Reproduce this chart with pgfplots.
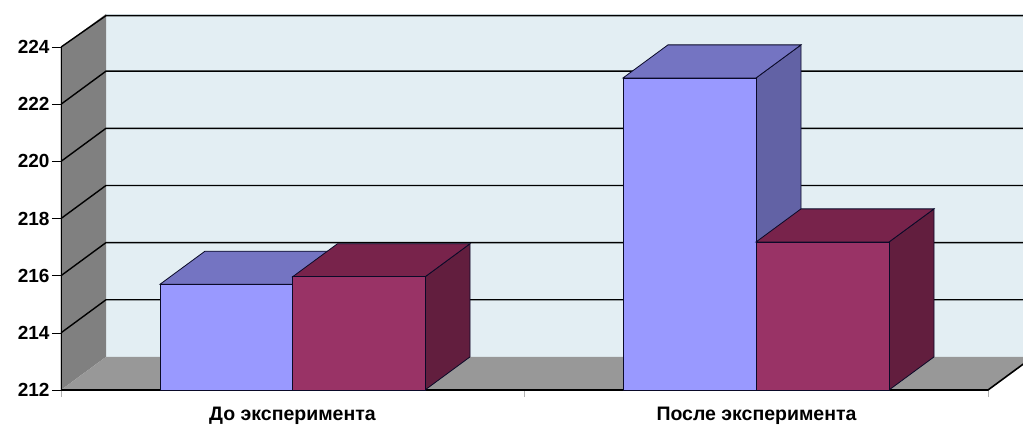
\documentclass[border=0pt]{standalone}
\usepackage{pgfplots}
\pgfplotsset{compat=1.18}
\usepackage{fontspec}
\setmainfont{Liberation Sans}
\definecolor{wallback}{RGB}{227,238,243}
\definecolor{wallleft}{RGB}{128,128,128}
\definecolor{floorc}{RGB}{152,152,152}
\definecolor{bfront}{RGB}{153,153,255}
\definecolor{btop}{RGB}{116,116,194}
\definecolor{bside}{RGB}{98,98,165}
\definecolor{rfront}{RGB}{153,51,102}
\definecolor{rtop}{RGB}{120,35,75}
\definecolor{rside}{RGB}{98,30,62}
\definecolor{edge}{RGB}{10,10,40}
\begin{document}
\begin{tikzpicture}
\begin{axis}[
  scale only axis,
  width=962pt, height=376pt,
  xmin=61, xmax=1023, ymin=212, ymax=225.158,
  axis x line=bottom, axis y line=left,
  axis line style={draw=none},
  no markers,
  ytick={212,214,...,224},
  tick align=outside,
  ytick pos=left,
  major tick length=9pt,
  ytick style={black, line width=0.6pt},
  yticklabel style={font=\fontsize{19}{22}\selectfont\bfseries, xshift=1pt},
  /pgf/number format/assume math mode=true,
  xtick={292.5,756.5},
  xticklabels={До эксперимента, После эксперимента},
  xtick style={draw=none},
  xticklabel style={font=\fontsize{19.5}{22}\selectfont\bfseries, yshift=-5pt},
  extra x ticks={61,524,988},
  extra x tick labels={},
  extra x tick style={xtick style={draw=gray!60, line width=0.6pt}, major tick length=7pt},
  unbounded coords=jump,
]
% walls and floor
\addplot[fill=wallback, draw=none] coordinates {(106,213.158) (1023,213.158) (1023,225.158) (106,225.158)} -- cycle;
\addplot[fill=wallleft, draw=none] coordinates {(61,212) (106,213.158) (106,225.158) (61,224)} -- cycle;
\addplot[fill=floorc, draw=none] coordinates {(61,212) (988,212) (1033,213.158) (106,213.158)} -- cycle;
% gridlines
\addplot[black, line width=1.4pt] coordinates {
 (61,214) (106,215.158) (1023,215.158) (nan,nan)
 (61,216) (106,217.158) (1023,217.158) (nan,nan)
 (61,218) (106,219.158) (1023,219.158) (nan,nan)
 (61,220) (106,221.158) (1023,221.158) (nan,nan)
 (61,222) (106,223.158) (1023,223.158) (nan,nan)
 (61,224) (106,225.1) (1023,225.1)
};
% front floor edge and value axis
\addplot[black, line width=1.6pt] coordinates {(61,224) (61,212) (988,212) (1033,213.158)};
% group 1, series 1
\addplot[fill=bside, draw=edge, line width=0.8pt] coordinates {(292.5,212) (337.5,213.158) (337.5,216.858) (292.5,215.7)} -- cycle;
\addplot[fill=btop, draw=edge, line width=0.8pt] coordinates {(160,215.7) (205,216.858) (337.5,216.858) (292.5,215.7)} -- cycle;
\addplot[fill=bfront, draw=edge, line width=0.8pt] coordinates {(160,212) (292.5,212) (292.5,215.7) (160,215.7)} -- cycle;
% group 1, series 2
\addplot[fill=rside, draw=edge, line width=0.8pt] coordinates {(425,212) (470,213.158) (470,217.118) (425,215.96)} -- cycle;
\addplot[fill=rtop, draw=edge, line width=0.8pt] coordinates {(292.5,215.96) (337.5,217.118) (470,217.118) (425,215.96)} -- cycle;
\addplot[fill=rfront, draw=edge, line width=0.8pt] coordinates {(292.5,212) (425,212) (425,215.96) (292.5,215.96)} -- cycle;
% group 2, series 1
\addplot[fill=bside, draw=edge, line width=0.8pt] coordinates {(756,212) (801,213.158) (801,224.078) (756,222.92)} -- cycle;
\addplot[fill=btop, draw=edge, line width=0.8pt] coordinates {(623,222.92) (668,224.078) (801,224.078) (756,222.92)} -- cycle;
\addplot[fill=bfront, draw=edge, line width=0.8pt] coordinates {(623,212) (756,212) (756,222.92) (623,222.92)} -- cycle;
% group 2, series 2
\addplot[fill=rside, draw=edge, line width=0.8pt] coordinates {(889,212) (934,213.158) (934,218.338) (889,217.18)} -- cycle;
\addplot[fill=rtop, draw=edge, line width=0.8pt] coordinates {(756,217.18) (801,218.338) (934,218.338) (889,217.18)} -- cycle;
\addplot[fill=rfront, draw=edge, line width=0.8pt] coordinates {(756,212) (889,212) (889,217.18) (756,217.18)} -- cycle;
\end{axis}
\path ([xshift=-61pt,yshift=-38pt]current axis.south west) rectangle ([yshift=14pt]current axis.north east);
\end{tikzpicture}
\end{document}
